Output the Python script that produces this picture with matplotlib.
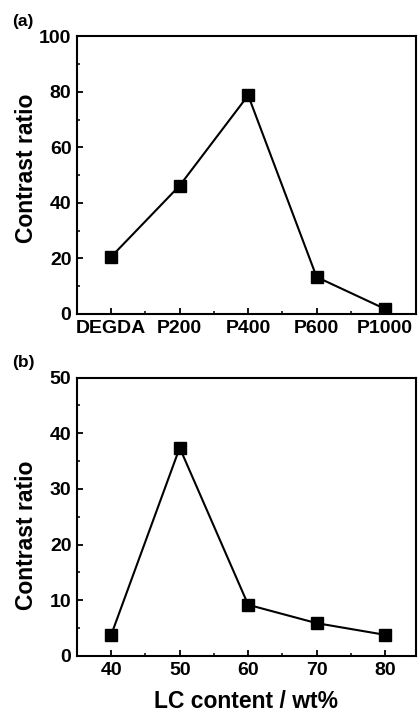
import matplotlib
matplotlib.use("Agg")
import matplotlib.pyplot as plt
from matplotlib.ticker import MultipleLocator

plt.rcParams['font.family'] = ['Liberation Sans', 'DejaVu Sans']
plt.rcParams['font.weight'] = 'bold'

# panel (a): crosslinker type
cats_a = ['DEGDA', 'P200', 'P400', 'P600', 'P1000']
cr_a = [20.6, 46.2, 78.7, 13.3, 1.8]

# panel (b): LC content
lc_b = [40, 50, 60, 70, 80]
cr_b = [3.8, 37.4, 9.2, 5.9, 3.8]

fig = plt.figure(figsize=(4.2, 7.16), dpi=100)
ax1 = fig.add_axes([0.1833, 0.5615, 0.807, 0.388])
ax2 = fig.add_axes([0.1833, 0.0838, 0.807, 0.3888])

def style(ax):
    for s in ax.spines.values():
        s.set_linewidth(1.5)
    ax.tick_params(which='major', direction='in', length=4, width=1.3,
                   labelsize=14, pad=4, top=False, right=False)
    ax.tick_params(which='minor', direction='in', length=2.5, width=1.1,
                   top=False, right=False)
    for lab in ax.get_xticklabels() + ax.get_yticklabels():
        lab.set_fontweight('bold')

x_a = list(range(len(cats_a)))
ax1.plot(x_a, cr_a, color='black', lw=1.5, marker='s', ms=8, mfc='black', mec='black')
ax1.set_xlim(-0.5, 4.45)
ax1.set_ylim(0, 100)
ax1.set_xticks(x_a)
ax1.set_xticklabels(cats_a)
ax1.xaxis.set_minor_locator(MultipleLocator(0.5))
ax1.yaxis.set_major_locator(MultipleLocator(20))
ax1.yaxis.set_minor_locator(MultipleLocator(10))
ax1.set_ylabel('Contrast ratio', fontsize=16.5, fontweight='bold')
style(ax1)
ax1.yaxis.set_label_coords(-0.116, 0.525)

ax2.plot(lc_b, cr_b, color='black', lw=1.5, marker='s', ms=8, mfc='black', mec='black')
ax2.set_xlim(35, 84.5)
ax2.set_ylim(0, 50)
ax2.xaxis.set_major_locator(MultipleLocator(10))
ax2.xaxis.set_minor_locator(MultipleLocator(5))
ax2.yaxis.set_major_locator(MultipleLocator(10))
ax2.yaxis.set_minor_locator(MultipleLocator(5))
ax2.set_ylabel('Contrast ratio', fontsize=16.5, fontweight='bold')
ax2.set_xlabel('LC content / wt%', fontsize=16.5, fontweight='bold', labelpad=8)
style(ax2)
ax2.yaxis.set_label_coords(-0.116, 0.435)

fig.text(0.028, 0.97, '(a)', fontsize=12.5, fontweight='bold', ha='left', va='center')
fig.text(0.028, 0.494, '(b)', fontsize=12.5, fontweight='bold', ha='left', va='center')

fig.savefig('out.png', dpi=100)
